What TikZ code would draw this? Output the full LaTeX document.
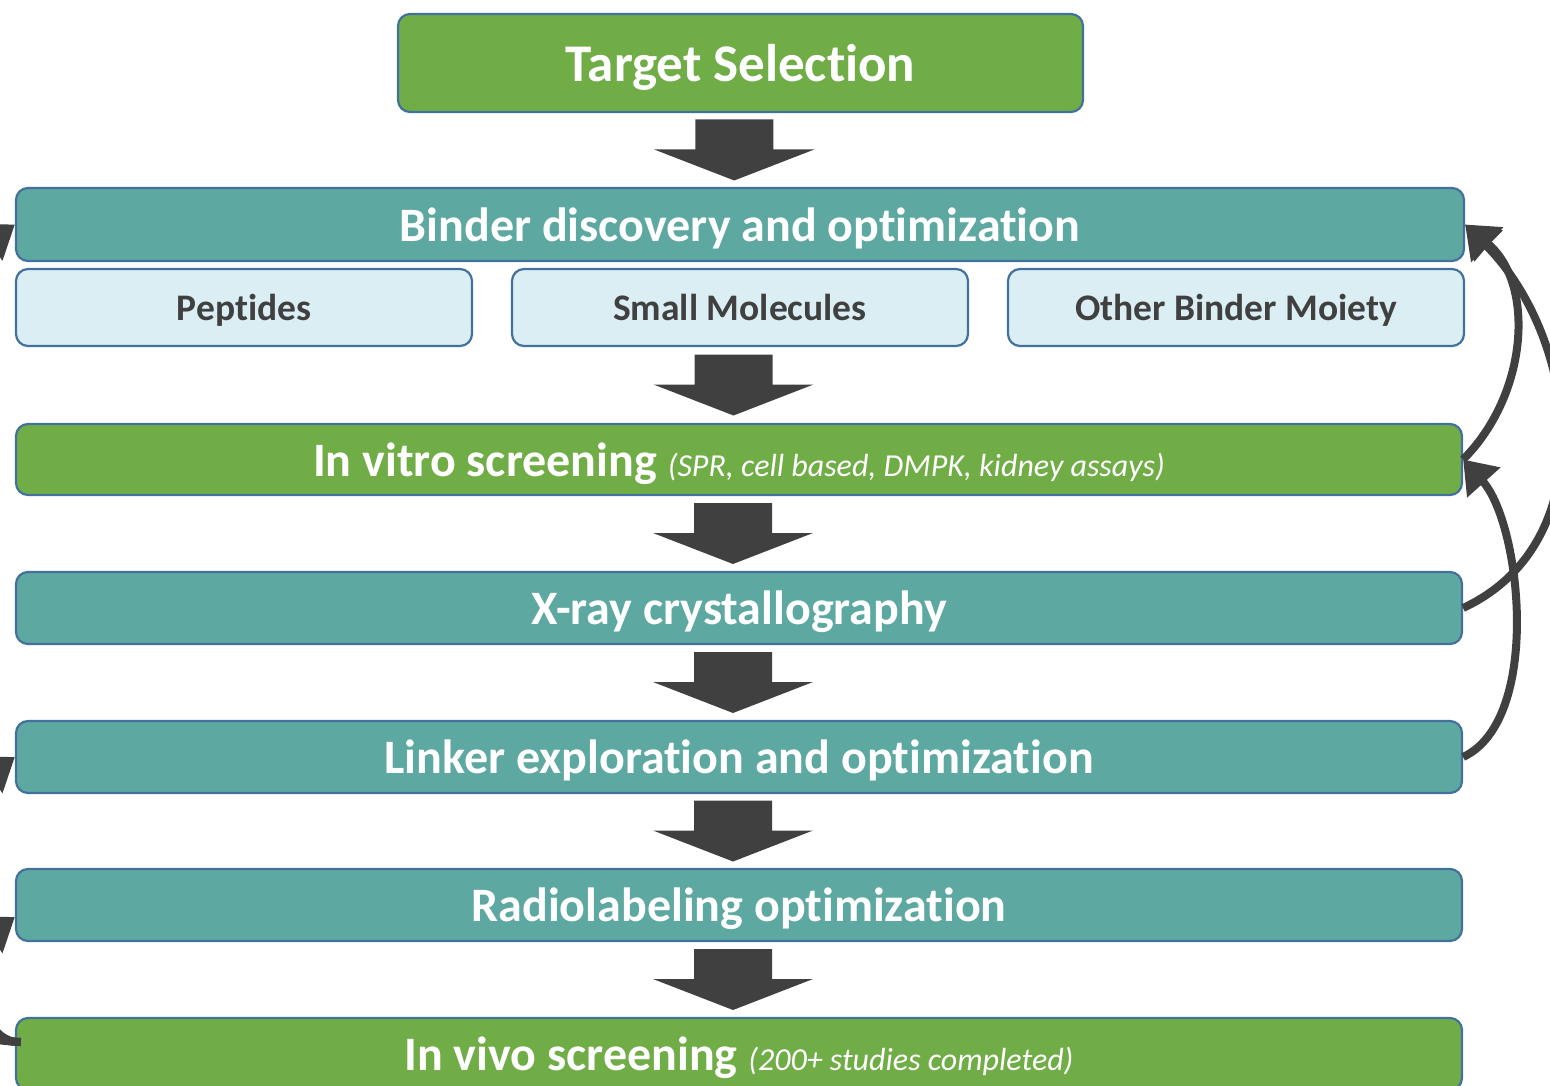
\documentclass[tikz,border=0pt]{standalone}
\usepackage{fontspec}
\setmainfont{Carlito}[Ligatures={NoCommon}]
\usetikzlibrary{arrows.meta,calc}
\definecolor{greenc}{HTML}{70AD47}
\definecolor{tealc}{HTML}{5DA9A2}
\definecolor{lightc}{HTML}{DAEEF3}
\definecolor{bordc}{HTML}{41719C}
\definecolor{darkc}{HTML}{404040}
\newcommand{\blkarrow}[2]{%
  \coordinate (mm) at ($(#1.south)!0.5!(#2.north)$);
  \coordinate (m) at ($(mm)+(-6,0)$);
  \fill[darkc] ($(m)+(-39,-30.5)$) -- ($(m)+(39,-30.5)$) -- ($(m)+(39,-0.5)$) -- ($(m)+(80,-0.5)$) -- ($(m)+(0,30.5)$) -- ($(m)+(-80,-0.5)$) -- ($(m)+(-39,-0.5)$) -- cycle;}
\begin{document}
\begin{tikzpicture}[x=1pt,y=-1pt,
  box/.style={draw=bordc, line width=2.2pt, rounded corners=12pt, inner sep=0pt, text depth=0pt, text=white, font=\bfseries\fontsize{48}{48}\selectfont},
  gbox/.style={box, fill=greenc},
  tbox/.style={box, fill=tealc},
  lbox/.style={box, fill=lightc, text=darkc, font=\bfseries\fontsize{37.5}{37.5}\selectfont, minimum width=456pt, minimum height=77pt},
  wide/.style={minimum width=1446pt, minimum height=72pt},
  conn/.style={draw=darkc, line width=8pt, -{Triangle[length=31pt,width=43pt]}}]
\newcommand{\smallit}{\itshape\mdseries\fontsize{32}{32}\selectfont}
\useasboundingbox (0,0) rectangle (1550,1086);
\begin{scope}
\clip (0,0) rectangle (1550,1086);
\node[gbox, minimum width=685pt, minimum height=98pt, font=\bfseries\fontsize{53}{53}\selectfont] (target) at (740.5,63) {Target Selection};
\node[tbox, minimum width=1448pt, minimum height=73pt] (binder) at (740,224.5) {Binder discovery and optimization};
\node[lbox] (pep) at (244,307.5) {Peptides};
\node[lbox] (small) at (740,307.5) {Small Molecules};
\node[lbox] (other) at (1236,307.5) {Other Binder Moiety};
\node[gbox, wide, minimum height=71pt] (invitro) at (739,459.5) {In vitro screening {\smallit (SPR, cell based, DMPK, kidney assays)}};
\node[tbox, wide] (xray) at (739,608) {X-ray crystallography};
\node[tbox, wide] (linker) at (739,757) {Linker exploration and optimization};
\node[tbox, wide] (radio) at (739,905) {Radiolabeling optimization};
\node[gbox, wide] (invivo) at (739,1054) {In vivo screening {\smallit (200+ studies completed)}};
\blkarrow{target}{binder}
\blkarrow{small}{invitro}
\blkarrow{invitro}{xray}
\blkarrow{xray}{linker}
\blkarrow{linker}{radio}
\blkarrow{radio}{invivo}
\draw[conn] (invitro.east) to[out=45,in=-40] (binder.east);
\draw[conn] (xray.east) to[out=25,in=-45,looseness=1.05] (binder.east);
\draw[conn] (linker.east) to[out=25,in=-48,looseness=0.75] (invitro.east);
\coordinate (lstart) at ($(invivo.west)+(6,-12)$);
\draw[conn] (lstart) to[out=182,in=-145] ($(radio.west)+(0,12)$);
\draw[conn] (lstart) to[out=180,in=-145] (linker.west);
\draw[conn] (lstart) to[out=178,in=-145] (binder.west);
\end{scope}
\end{tikzpicture}
\end{document}
